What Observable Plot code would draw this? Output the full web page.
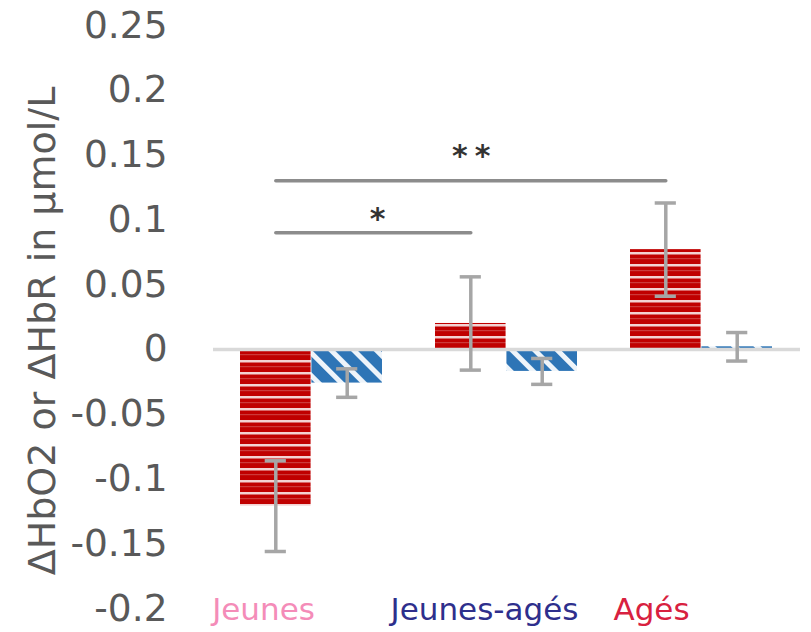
<!DOCTYPE html>
<html><head><meta charset="utf-8">
<script src="https://cdn.jsdelivr.net/npm/d3@7"></script>
<script src="https://cdn.jsdelivr.net/npm/@observablehq/plot@0.6"></script>
<style>body{margin:0;background:#fff} svg{display:block}</style>
</head><body><div id="chart"></div>
<script>
// ---- data ----
const groups = ["Jeunes", "Jeunes-agés", "Agés"];
const hbo2 = [-0.121, 0.020, 0.077];
const hbo2Err = [0.035, 0.036, 0.036];
const hbr = [-0.026, -0.017, 0.002];
const hbrErr = [0.011, 0.010, 0.011];
const yTicks = [-0.2, -0.15, -0.1, -0.05, 0, 0.05, 0.1, 0.15, 0.2, 0.25];
const groupColors = ["#f48cb8", "#2e2f8c", "#d8213f"];
const sigFrom = ["Jeunes", "Jeunes"];
const sigTo = ["Jeunes-agés", "Agés"];
const sigLevel = [0.09, 0.1302];
const sigLabel = ["*", "**"];
const sigLabelY = [0.104, 0.1525];
const yLabel = "ΔHbO2 or ΔHbR in µmol/L";

// ---- layout ----
const W = 811, H = 632, ML = 213, MR = 11, MT = 25, MB = 24;
const PI = 0.27, PO = 0.135;
const step = (W - ML - MR) / (groups.length - PI + 2 * PO);
const bw = step * (1 - PI);
const q = bw / 4;
const cap = 11;

const o2Rows = groups.map((g, i) => ({group: g, value: hbo2[i], err: hbo2Err[i]}));
const hrRows = groups.map((g, i) => ({group: g, value: hbr[i], err: hbrErr[i]}));
const sigRows = sigFrom.flatMap((f, i) => [
  {id: i, g: f, y: sigLevel[i]},
  {id: i, g: sigTo[i], y: sigLevel[i]}
]);
const labRows = groups.map((g, i) => ({group: g, y: yTicks[0], color: groupColors[i]}));

const errColor = "#a6a6a6";
const labelDx = [-48, -22, -50];
const capOpts = {insetLeft: bw / 2 - cap, insetRight: bw / 2 - cap, stroke: errColor, strokeWidth: 3.5};

const svg = Plot.plot({
  width: W, height: H,
  marginLeft: ML, marginRight: MR, marginTop: MT, marginBottom: MB,
  style: {fontFamily: "DejaVu Sans", background: "#fff"},
  x: {type: "band", domain: groups, paddingInner: PI, paddingOuter: PO, axis: null},
  y: {domain: [yTicks[0], yTicks[yTicks.length - 1]], axis: null},
  marks: [
    Plot.axisY({ticks: yTicks, tickSize: 0, tickPadding: 46, fontSize: 37.5, color: "#595959",
      tickFormat: d => String(+d.toFixed(2)), label: null}),
    Plot.text([yLabel], {text: d => d, frameAnchor: "left", textAnchor: "middle", rotate: -90, dx: -171, dy: 14,
      fontSize: 38, fill: "#595959"}),
    Plot.barY(o2Rows, {x: "group", y: "value", fill: "url(#redStripes)", insetRight: bw / 2}),
    Plot.barY(hrRows, {x: "group", y: "value", fill: "url(#blueStripes)", insetLeft: bw / 2}),
    Plot.ruleY([0], {stroke: "#d9d9d9", strokeWidth: 3.5}),
    // error bars
    Plot.ruleX(o2Rows, {x: "group", y1: d => d.value - d.err, y2: d => d.value + d.err, dx: -q, stroke: errColor, strokeWidth: 3.5}),
    Plot.ruleX(hrRows, {x: "group", y1: d => d.value - d.err, y2: d => d.value + d.err, dx: q, stroke: errColor, strokeWidth: 3.5}),
    Plot.tickY(o2Rows, {x: "group", y: d => d.value - d.err, dx: -q, ...capOpts}),
    Plot.tickY(o2Rows, {x: "group", y: d => d.value + d.err, dx: -q, ...capOpts}),
    Plot.tickY(hrRows, {x: "group", y: d => d.value - d.err, dx: q, ...capOpts}),
    Plot.tickY(hrRows, {x: "group", y: d => d.value + d.err, dx: q, ...capOpts}),
    // significance
    Plot.line(sigRows, {x: "g", y: "y", z: "id", dx: -q, stroke: "#8c8c8c", strokeWidth: 3.5}),
    Plot.text([0], {x: () => sigFrom[0], y: () => sigLabelY[0], text: () => sigLabel[0], dx: step / 2 - q + 4, dy: 5,
      fontSize: 30, fontWeight: "bold", fill: "#333", lineAnchor: "middle"}),
    Plot.text([1], {x: () => sigTo[0], y: () => sigLabelY[1], text: () => sigLabel[1], dx: -q + 4, dy: 5,
      fontSize: 30, fontWeight: "bold", fill: "#333", lineAnchor: "middle"}),
    // category labels
    ...labRows.map((r, i) => Plot.text([r], {x: "group", y: "y", text: "group", fill: r.color, fontSize: 31, dx: labelDx[i], dy: 2, lineAnchor: "middle"}))
  ]
});

const ns = "http://www.w3.org/2000/svg";
const defs = document.createElementNS(ns, "defs");
defs.innerHTML = `
<pattern id="redStripes" patternUnits="userSpaceOnUse" width="12" height="12">
  <rect width="12" height="12" fill="#c00000"/>
  <rect y="0" width="12" height="2.5" fill="#f3d2d2"/>
  <rect y="6" width="12" height="1.2" fill="#cc3a3a"/>
</pattern>
<pattern id="blueStripes" patternUnits="userSpaceOnUse" width="16" height="16" patternTransform="rotate(-45)">
  <rect width="16" height="16" fill="#2e75b6"/>
  <rect width="5" height="16" fill="#eef4fa"/>
</pattern>`;
svg.insertBefore(defs, svg.firstChild);
svg.querySelectorAll("text").forEach(t => { if (t.textContent === "**") t.style.letterSpacing = "7px"; });
document.getElementById("chart").appendChild(svg);
</script>
</body></html>
